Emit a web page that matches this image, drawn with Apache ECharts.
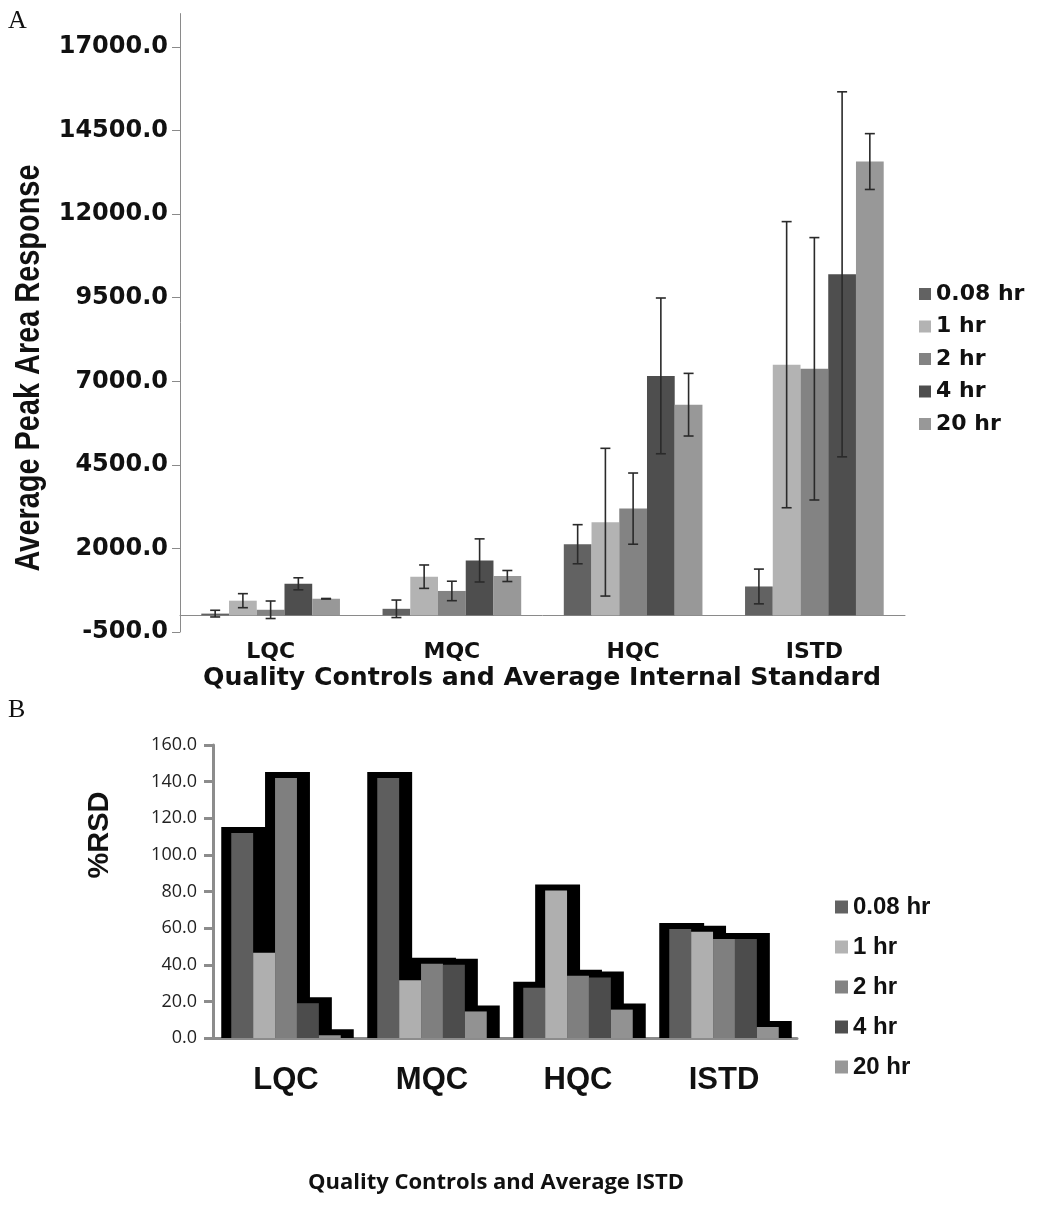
<!DOCTYPE html>
<html>
<head>
<meta charset="utf-8">
<script src="https://cdn.jsdelivr.net/npm/echarts@6/dist/echarts.min.js"></script>
<style>
  html, body { margin: 0; padding: 0; background: #fff; }
  #chart { width: 1037px; height: 1205px; }
</style>
</head>
<body>
<div id="chart"></div>
<script>
const categories = ['LQC', 'MQC', 'HQC', 'ISTD'];
const timeNames = ['0.08 hr', '1 hr', '2 hr', '4 hr', '20 hr'];

// panel A: average peak area response (LQC, MQC, HQC, ISTD)
const area008 = [50, 194, 2126, 862];
const area1 = [437, 1155, 2785, 7497];
const area2 = [165, 728, 3191, 7374];
const area4 = [942, 1641, 7162, 10200];
const area20 = [495, 1175, 6300, 13574];
// error bar half-lengths
const err008 = [100, 262, 585, 520];
const err1 = [210, 350, 2210, 4280];
const err2 = [262, 291, 1065, 3925];
const err4 = [180, 645, 2330, 5460];
const err20 = [8, 165, 937, 835];
const areaTicks = [-500, 2000, 4500, 7000, 9500, 12000, 14500, 17000];

// panel B: %RSD
const rsd008 = [112, 142, 27.5, 59.5];
const rsd1 = [46.5, 31.5, 80.5, 58];
const rsd2 = [142, 40.5, 34, 54];
const rsd4 = [19, 40, 33, 54];
const rsd20 = [1.5, 14.5, 15.5, 6];
const rsdTicks = [0, 20, 40, 60, 80, 100, 120, 140, 160];

const areaAll = [area008, area1, area2, area4, area20];
const errAll = [err008, err1, err2, err4, err20];
const rsdAll = [rsd008, rsd1, rsd2, rsd4, rsd20];

const colorsA = ['#626262', '#b3b3b3', '#838383', '#4e4e4e', '#989898'];
const colorsB = ['#5e5e5e', '#afafaf', '#7f7f7f', '#4c4c4c', '#929292'];

const barPctA = 0.153;  // bar width as share of a category band
const barPctB = 0.15;

const boldWide = 'DejaVu Sans';

let myChart = echarts.init(document.getElementById('chart'));

// error bars drawn on top of the bars of panel A
const errorSeries = areaAll.map((vals, k) => ({
    type: 'custom',
    name: 'err' + k,
    xAxisIndex: 0,
    yAxisIndex: 0,
    z: 5,
    data: vals.map((v, i) => [i, v, errAll[k][i]]),
    renderItem: (params, api) => {
        const cat = api.value(0);
        const v = api.value(1);
        const e = api.value(2);
        const band = api.size([1, 0])[0];
        const bw = band * barPctA;
        const c = api.coord([cat, v]);
        const x = c[0] - 2.5 * bw + (k + 0.5) * bw;
        const yTop = api.coord([cat, v + e])[1];
        const yBot = api.coord([cat, v - e])[1];
        const cap = 5;
        const st = { stroke: '#2a2a2a', lineWidth: 1.6 };
        return {
            type: 'group',
            children: [
                { type: 'line', shape: { x1: x, y1: yTop, x2: x, y2: yBot }, style: st },
                { type: 'line', shape: { x1: x - cap, y1: yTop, x2: x + cap, y2: yTop }, style: st },
                { type: 'line', shape: { x1: x - cap, y1: yBot, x2: x + cap, y2: yBot }, style: st }
            ]
        };
    }
}));

// black frames behind the %RSD bars (all drawn under the fills)
const frameSeries = rsdAll.map((vals, k) => ({
    type: 'custom',
    name: 'frame' + k,
    xAxisIndex: 1,
    yAxisIndex: 1,
    z: 1,
    data: vals.map((v, i) => [i, v]),
    renderItem: (params, api) => {
        const cat = api.value(0);
        const v = api.value(1);
        const band = api.size([1, 0])[0];
        const bw = band * barPctB;
        const top = api.coord([cat, v]);
        const base = api.coord([cat, 0]);
        const left = top[0] - 2.5 * bw + k * bw;
        return {
            type: 'rect',
            shape: { x: left - 10, y: top[1] - 6, width: bw + 23, height: base[1] - top[1] + 6 },
            style: { fill: '#000' }
        };
    }
}));

const barsA = areaAll.map((vals, k) => ({
    type: 'bar',
    name: timeNames[k],
    xAxisIndex: 0,
    yAxisIndex: 0,
    barWidth: (barPctA * 100) + '%',
    barGap: '0%',
    z: 2,
    itemStyle: { color: colorsA[k] },
    data: vals
}));

const barsB = rsdAll.map((vals, k) => ({
    type: 'bar',
    name: timeNames[k],
    xAxisIndex: 1,
    yAxisIndex: 1,
    barWidth: (barPctB * 100) + '%',
    barGap: '0%',
    z: 2,
    itemStyle: { color: colorsB[k] },
    data: vals
}));

let option = {
    animation: false,
    backgroundColor: '#fff',
    grid: [
        { left: 180, top: 13.6, width: 725, height: 618.4 },   // A
        { left: 213, top: 745, width: 584, height: 293 }       // B
    ],
    legend: [
        {
            data: timeNames,
            orient: 'vertical',
            left: 914,
            top: 276,
            itemWidth: 12,
            itemHeight: 12,
            itemGap: 6.5,
            icon: 'rect',
            selectedMode: false,
            textStyle: { fontFamily: boldWide, fontWeight: 'bold', fontSize: 22, color: '#111', lineHeight: 26 }
        },
        {
            data: timeNames,
            orient: 'vertical',
            left: 830,
            top: 888,
            itemWidth: 13,
            itemHeight: 13,
            itemGap: 12,
            icon: 'rect',
            selectedMode: false,
            textStyle: { fontFamily: 'Liberation Sans', fontWeight: 'bold', fontSize: 24, color: '#111', lineHeight: 28 }
        }
    ],
    xAxis: [
        {
            gridIndex: 0,
            type: 'category',
            data: categories,
            axisLine: { lineStyle: { color: '#8a8a8a', width: 1 } },
            axisTick: { length: 7, lineStyle: { color: '#8a8a8a' } },
            axisLabel: { margin: 9, fontFamily: boldWide, fontWeight: 'bold', fontSize: 22, color: '#111' }
        },
        {
            gridIndex: 1,
            type: 'category',
            data: categories,
            axisLine: { lineStyle: { color: '#8c8c8c', width: 3 } },
            axisTick: { length: 9, lineStyle: { color: '#8c8c8c', width: 3 } },
            axisLabel: { margin: 27, fontFamily: 'Liberation Sans', fontWeight: 'bold', fontSize: 31, color: '#111' }
        }
    ],
    yAxis: [
        {
            gridIndex: 0,
            type: 'value',
            min: areaTicks[0],
            max: 18000,
            interval: areaTicks[1] - areaTicks[0],
            axisLine: { show: true, lineStyle: { color: '#8a8a8a' } },
            axisTick: { show: true, length: 8, lineStyle: { color: '#8a8a8a' } },
            splitLine: { show: false },
            axisLabel: {
                showMaxLabel: false,
                margin: 12,
                formatter: v => v.toFixed(1),
                fontFamily: boldWide, fontWeight: 'bold', fontSize: 24, color: '#111'
            }
        },
        {
            gridIndex: 1,
            type: 'value',
            min: rsdTicks[0],
            max: rsdTicks[rsdTicks.length - 1],
            interval: rsdTicks[1] - rsdTicks[0],
            axisLine: { show: true, lineStyle: { color: '#8c8c8c', width: 3 } },
            axisTick: { show: true, length: 9, lineStyle: { color: '#8c8c8c', width: 3 } },
            splitLine: { show: false },
            axisLabel: {
                margin: 16,
                formatter: v => v.toFixed(1),
                fontFamily: 'Open Sans', fontSize: 18, color: '#222'
            }
        }
    ],
    graphic: [
        { type: 'text', left: 8, top: 8, style: { text: 'A', fontFamily: 'Liberation Serif', fontSize: 26, fill: '#111' } },
        { type: 'text', left: 8, top: 697, style: { text: 'B', fontFamily: 'Liberation Serif', fontSize: 26, fill: '#111' } },
        {
            type: 'text', x: 29, y: 368, rotation: Math.PI / 2, scaleX: 0.85, scaleY: 1.05,
            style: {
                text: 'Average Peak Area Response', align: 'center', verticalAlign: 'middle',
                fontFamily: 'Liberation Sans', fontWeight: 'bold', fontSize: 34, fill: '#111'
            }
        },
        {
            type: 'text', x: 542, y: 679, scaleX: 1.05,
            style: {
                text: 'Quality Controls and Average Internal Standard', align: 'center', verticalAlign: 'middle',
                fontFamily: boldWide, fontWeight: 'bold', fontSize: 24, fill: '#111'
            }
        },
        {
            type: 'text', x: 100, y: 835, rotation: Math.PI / 2,
            style: {
                text: '%RSD', align: 'center', verticalAlign: 'middle',
                fontFamily: 'Liberation Sans', fontWeight: 'bold', fontSize: 29, fill: '#111'
            }
        },
        {
            type: 'text', x: 496, y: 1183,
            style: {
                text: 'Quality Controls and Average ISTD', align: 'center', verticalAlign: 'middle',
                fontFamily: 'Open Sans', fontWeight: 'bold', fontSize: 22, fill: '#111'
            }
        }
    ],
    series: [].concat(barsA, errorSeries, frameSeries, barsB)
};

myChart.setOption(option);
window.addEventListener('resize', () => {
    myChart.resize();
});
</script>
</body>
</html>
